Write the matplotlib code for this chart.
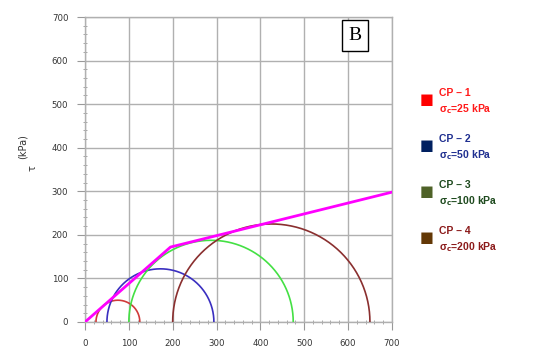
import numpy as np
import matplotlib.pyplot as plt
from matplotlib.ticker import MultipleLocator

# Circulos de Mohr (sigma3, sigma1) em kPa
SIGMA3 = [25, 50, 100, 200]
SIGMA1 = [125, 294, 475, 650]
CIRCLE_COLORS = ["#d03a3a", "#3a2fc0", "#44e044", "#8a2f2f"]

# Envoltoria de ruptura (bilinear)
ENV_X = [0, 195, 700]
ENV_Y = [0, 172, 298]

LEGEND_NAMES = ["CP \u2013 1", "CP \u2013 2", "CP \u2013 3", "CP \u2013 4"]
LEGEND_STRESS = [25, 50, 100, 200]
SQUARE_COLORS = ["#ff0000", "#002060", "#4f6228", "#633806"]
TEXT_COLORS = ["#ff1a1a", "#1f2f90", "#1e4a1e", "#8b1a1a"]

TICKS = [0, 100, 200, 300, 400, 500, 600, 700]

fig = plt.figure(figsize=(5.45, 3.55), dpi=100)
ax = fig.add_axes([0.156, 0.093, 0.563, 0.859])

theta = np.linspace(0, np.pi, 300)
for s3, s1, c in zip(SIGMA3, SIGMA1, CIRCLE_COLORS):
    center = (s1 + s3) / 2.0
    radius = (s1 - s3) / 2.0
    ax.plot(center + radius * np.cos(theta), radius * np.sin(theta),
            color=c, linewidth=1.2, zorder=3)

ax.plot(ENV_X, ENV_Y, color="#ff00ff", linewidth=2.0, zorder=4)

ax.set_xlim(0, 700)
ax.set_ylim(0, 700)
ax.set_xticks(TICKS)
ax.set_yticks(TICKS)
ax.xaxis.set_minor_locator(MultipleLocator(20))
ax.yaxis.set_minor_locator(MultipleLocator(20))
ax.grid(True, which="major", color="#b0b0b0", linewidth=1.0)
ax.tick_params(which="major", labelsize=6.2, labelcolor="#333333",
               color="#999999", length=6, width=0.8, pad=6)
ax.tick_params(which="minor", color="#999999", length=3, width=0.6,
               direction="inout")
for sp in ax.spines.values():
    sp.set_color("#b0b0b0")
    sp.set_linewidth(1.0)

fig.text(0.042, 0.586, "(kPa)", rotation=90, fontsize=7, color="#333333",
         ha="center", va="center")
fig.text(0.060, 0.527, "\u03c4", rotation=90, fontsize=7, color="#333333",
         ha="center", va="center")

ax.text(0.88, 0.94, "B", transform=ax.transAxes, fontsize=14,
        family="Liberation Serif", ha="center", va="center", zorder=6,
        bbox=dict(boxstyle="square,pad=0.35", facecolor="white",
                  edgecolor="black", linewidth=1.0))

# Legenda manual a direita
y0 = 0.72
dy = 0.13
for i, (name, st) in enumerate(zip(LEGEND_NAMES, LEGEND_STRESS)):
    y = y0 - i * dy
    fig.text(0.770, y, "\u25a0", fontsize=10.5, color=SQUARE_COLORS[i],
             ha="left", va="center", family="DejaVu Sans")
    fig.text(0.805, y + 0.018, name, fontsize=7.5, fontweight="bold",
             color=TEXT_COLORS[i], ha="left", va="center",
             family="Liberation Sans")
    fig.text(0.805, y - 0.027, "\u03c3$_\\mathbf{c}$=%d kPa" % st,
             fontsize=7.5, fontweight="bold", color=TEXT_COLORS[i],
             ha="left", va="center", family="Liberation Sans")

fig.savefig("out.png", dpi=100)
plt.close(fig)
